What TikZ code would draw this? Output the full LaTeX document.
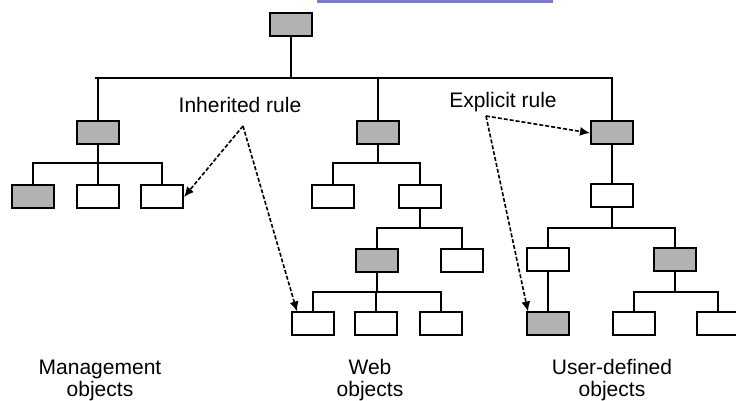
\documentclass[tikz,border=0pt]{standalone}
\usepackage{fontspec}
\setmainfont{Liberation Sans}
\usetikzlibrary{arrows.meta,calc}
\tikzset{
  obj/.style={
    shape = rectangle,
    draw,
    fill = white,
    line width = 1pt,
    inner sep = 0pt,
    minimum width = 21pt,
    minimum height = 11.5pt
  },
  objg/.style={
    obj,
    fill = gray!60
  },
  link/.style={
    line width = 1pt
  },
  rule/.style={
    line width = 0.8pt,
    dash pattern = on 2pt off 1pt,
    -{Latex[length=5pt,width=4.5pt]}
  },
  lbl/.style={
    font = \fontsize{10.5}{11}\selectfont,
    align = center,
    inner sep = 0pt
  }
}
\begin{document}
\begin{tikzpicture}[x=0.5pt,y=-0.5pt]
        \useasboundingbox (0,0) rectangle (736,401);
        \fill[blue!50!gray!70] (317,0) rectangle (553,3);

        % root
        \node[objg] (top) at (291,25) {};

        % management objects
        \node[objg] (mroot) at (98,133) {};
        \node[objg] (mc1) at (33,197) {};
        \node[obj] (mc2) at (98,197) {};
        \node[obj] (mc3) at (162,197) {};

        % web objects
        \node[objg] (wroot) at (378,133) {};
        \node[obj] (wc1) at (333,197) {};
        \node[obj] (wc2) at (420,197) {};
        \node[objg] (wg) at (377,261) {};
        \node[obj] (wc3) at (462,261) {};
        \node[obj] (wl1) at (313,324) {};
        \node[obj] (wl2) at (376,324) {};
        \node[obj] (wl3) at (441,324) {};

        % user-defined objects
        \node[objg] (uroot) at (612,133) {};
        \node[obj] (uc) at (612,196) {};
        \node[obj] (ul) at (548,260) {};
        \node[objg] (ug) at (675,260) {};
        \node[objg] (ugl) at (548,324) {};
        \node[obj] (ugc1) at (634,324) {};
        \node[obj] (ugc2) at (718,324) {};

        % tree links
        \coordinate (busl) at (95,78);
        \draw[link] (top.south) -- (top.south |- busl) -- (busl);
        \foreach \c in {mroot,wroot,uroot}
            \draw[link] (top.south) -- (top.south |- busl) -| (\c.north);
        \foreach \c in {mc1,mc2,mc3}
            \draw[link] (mroot.south) -- (mroot.south |- 0,163) -| (\c.north);
        \foreach \c in {wc1,wc2}
            \draw[link] (wroot.south) -- (wroot.south |- 0,163) -| (\c.north);
        \foreach \c in {wg,wc3}
            \draw[link] (wc2.south) -- (wc2.south |- 0,228) -| (\c.north);
        \foreach \c in {wl1,wl2,wl3}
            \draw[link] (wg.south) -- (wg.south |- 0,292) -| (\c.north);
        \draw[link] (uroot) -- (uc);
        \foreach \c in {ul,ug}
            \draw[link] (uc.south) -- (uc.south |- 0,228) -| (\c.north);
        \draw[link] (ul.south) -- (ugl.north);
        \foreach \c in {ugc1,ugc2}
            \draw[link] (ug.south) -- (ug.south |- 0,292) -| (\c.north);

        % rule labels
        \node[lbl] (inh) at (240,105) {Inherited rule};
        \coordinate (inhpt) at (243,126);
        \draw[rule] (inhpt) -- (mc3.east);
        \draw[rule] (inhpt) -- ($(wl1.north west)+(6,0)$);

        \node[lbl] (expl) at (503,102) {Explicit rule};
        \coordinate (explpt) at (486,116);
        \draw[rule] (explpt) -- (uroot.west);
        \draw[rule] (explpt) -- ($(ugl.north west)+(2,0)$);

        % captions
        \node[lbl] (mcap) at (100,380) {Management\\objects};
        \node[lbl] (wcap) at (370,380) {Web\\objects};
        \node[lbl] (ucap) at (612,380) {User-defined\\objects};
\end{tikzpicture}
\end{document}
